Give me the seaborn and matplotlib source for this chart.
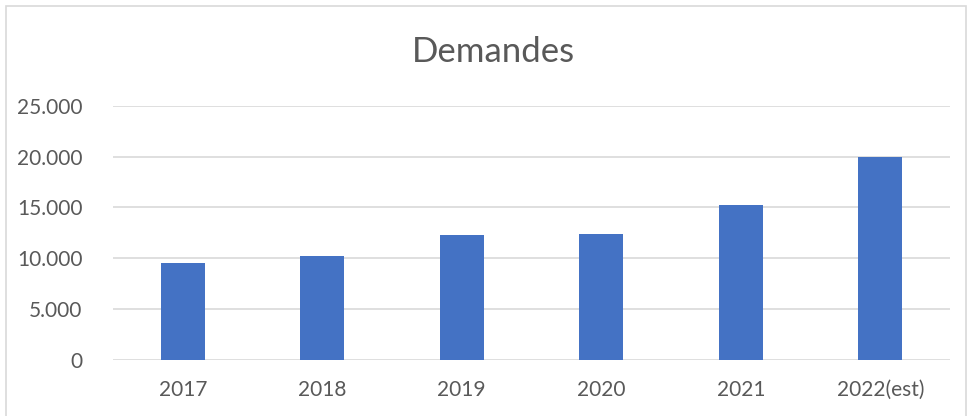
import pandas as pd
import matplotlib
matplotlib.use("Agg")
import matplotlib.pyplot as plt
import seaborn as sns
from matplotlib.ticker import FuncFormatter
from matplotlib.patches import Rectangle

# Data
years = ["2017", "2018", "2019", "2020", "2021", "2022(est)"]
demandes = [9500, 10200, 12300, 12400, 15200, 20000]
yticks = [0, 5000, 10000, 15000, 20000, 25000]

df = pd.DataFrame({"year": years, "demandes": demandes})

sns.set_style("white")
plt.rcParams["font.family"] = ["Lato", "DejaVu Sans"]

text_col = "#595959"
grid_col = "#d9d9d9"

fig = plt.figure(figsize=(9.68, 4.16), dpi=100)
ax = fig.add_axes([113 / 968, 1 - 359.5 / 416, (950 - 113) / 968, (359.5 - 106) / 416])

sns.barplot(data=df, x="year", y="demandes", color="#4472C4", width=0.315,
            saturation=1, linewidth=0, ax=ax, zorder=3)

ax.set_ylim(0, 25000)
ax.set_xlim(-0.5, 5.5)
ax.set_yticks(yticks)
ax.yaxis.set_major_formatter(FuncFormatter(lambda v, p: f"{int(v):,}".replace(",", ".")))
ax.grid(axis="y", color=grid_col, linewidth=1.2, zorder=0)
ax.set_axisbelow(True)
for s in ax.spines.values():
    s.set_visible(False)
ax.tick_params(axis="both", length=0, labelsize=15, labelcolor=text_col)
ax.tick_params(axis="y", pad=22)
ax.tick_params(axis="x", pad=15)
ax.set_xlabel("")
ax.set_ylabel("")

fig.text(493 / 968, 1 - 52 / 416, "Demandes", ha="center", va="center",
         fontsize=25, color=text_col)

# outer chart border
fig.patches.append(Rectangle((6 / 968, -0.01), (966 - 6) / 968, 1 - 6 / 416 + 0.01,
                             transform=fig.transFigure, fill=False,
                             edgecolor=grid_col, linewidth=1.2))

fig.savefig("out.png", dpi=100)
